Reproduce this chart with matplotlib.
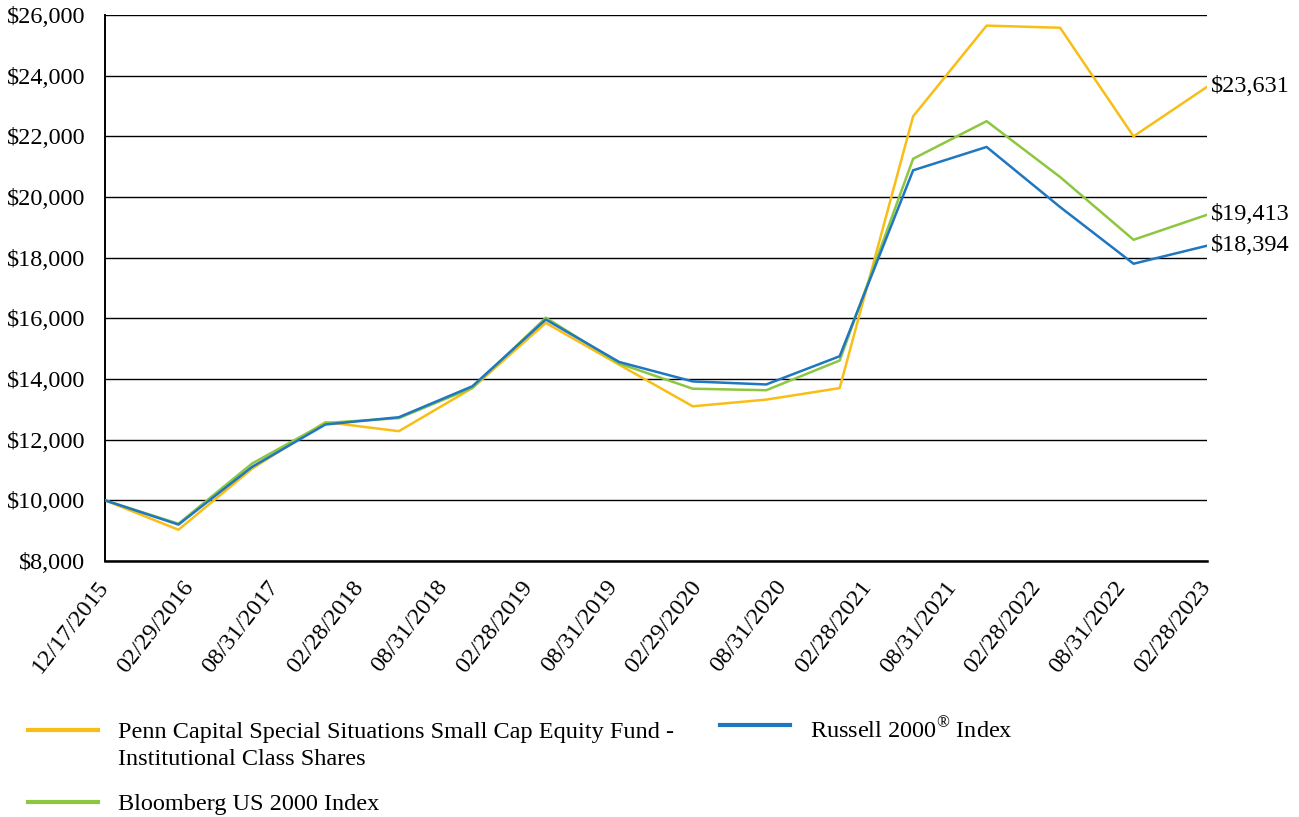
import numpy as np
import matplotlib
matplotlib.use("Agg")
import matplotlib.pyplot as plt
from matplotlib.lines import Line2D
from matplotlib.ticker import FuncFormatter

plt.rcParams['font.family'] = ['Liberation Serif', 'DejaVu Serif']
plt.rcParams['mathtext.fontset'] = 'custom'
plt.rcParams['mathtext.rm'] = 'Liberation Serif'

# tick labels shown under the axis
date_labels = ['12/17/2015', '02/29/2016', '08/31/2017', '02/28/2018', '08/31/2018',
               '02/28/2019', '08/31/2019', '02/29/2020', '08/31/2020', '02/28/2021',
               '08/31/2021', '02/28/2022', '08/31/2022', '02/28/2023']

# semi-annual values (16 points)
penn = [10000, 9030, 11040, 12580, 12280, 13700, 15850, 14470, 13100, 13320,
        13700, 22660, 25650, 25580, 22000, 23631]
russell = [10000, 9200, 11100, 12500, 12740, 13760, 15960, 14560, 13920, 13820,
           14750, 20880, 21650, 19670, 17800, 18394]
bloomberg = [10000, 9230, 11210, 12550, 12710, 13710, 16020, 14510, 13680, 13630,
             14610, 21260, 22500, 20660, 18590, 19413]

c_penn = '#F9BE16'
c_russell = '#1F76C1'
c_bloom = '#8DC63F'

fig = plt.figure(figsize=(12.99, 8.17), dpi=100)
ax = fig.add_axes([105/1299, 1 - 561/817, (1207-105)/1299, (561-15)/817])

x = np.arange(len(penn))
ax.plot(x, penn, color=c_penn, lw=1.8, zorder=3)
ax.plot(x, bloomberg, color=c_bloom, lw=1.8, zorder=3)
ax.plot(x, russell, color=c_russell, lw=1.8, zorder=4)

ax.set_xlim(0, len(penn) - 1)
ax.set_ylim(8000, 26000)
ax.set_yticks(np.arange(8000, 26001, 2000))
ax.yaxis.set_major_formatter(FuncFormatter(lambda v, p: '${:,.0f}'.format(v)))
ax.grid(axis='y', color='black', lw=1.0)
ax.set_axisbelow(True)
for s in ['top', 'right']:
    ax.spines[s].set_visible(False)
ax.spines['left'].set_linewidth(1.4)
ax.spines['bottom'].set_linewidth(1.8)
ax.tick_params(axis='y', length=0, pad=14, labelsize=17.5)

ax.set_xticks(np.linspace(0, len(penn) - 1, len(date_labels)))
ax.set_xticklabels(date_labels, rotation=52, ha='right', va='center',
                   rotation_mode='anchor', fontsize=17.5)
ax.tick_params(axis='x', length=0, pad=16)

# end-point value labels
for series in [penn, bloomberg, russell]:
    ax.annotate('${:,.0f}'.format(series[-1]), (x[-1], series[-1]),
                xytext=(3, 0), textcoords='offset points', va='center',
                fontsize=17.5, annotation_clip=False)

# legend drawn under the chart
def legend_item(x0, y0, color, text):
    fig.add_artist(Line2D([x0/1299, (x0+70)/1299], [1 - y0/817, 1 - y0/817],
                          color=color, lw=3, transform=fig.transFigure))
    fig.text((x0+90)/1299, 1 - (y0 - 8)/817, text, fontsize=17.5, va='top',
             ha='left', linespacing=1.4, transform=fig.transFigure)

legend_item(28, 730, c_penn, 'Penn Capital Special Situations Small Cap Equity Fund -\nInstitutional Class Shares')
legend_item(28, 802, c_bloom, 'Bloomberg US 2000 Index')
legend_item(720, 725, c_russell, 'Russell 2000$^{®}$ Index')

fig.savefig('out.png', dpi=100)
